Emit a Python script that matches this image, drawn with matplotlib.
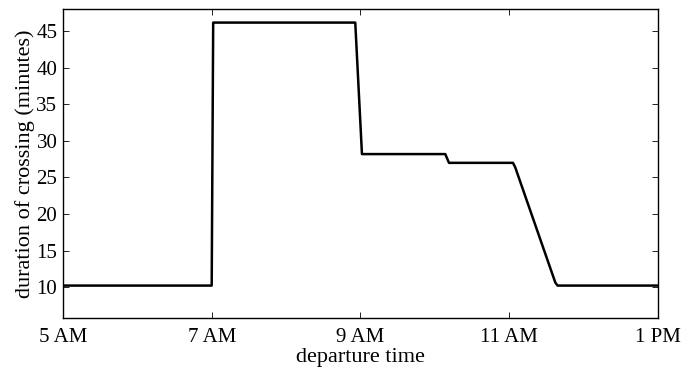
"""Durada del creuament segons l'hora de sortida."""

import matplotlib.pyplot as plt

# hores de sortida (hores decimals) i durada del creuament (minuts)
departure_hours = [5.0, 7.0, 7.02, 8.93, 9.02, 10.14, 10.19, 11.05, 11.08, 11.62, 11.65, 13.0]
crossing_minutes = [10.2, 10.2, 46.2, 46.2, 28.2, 28.2, 27.0, 27.0, 26.4, 10.6, 10.2, 10.2]

tick_hours = [5, 7, 9, 11, 13]
tick_labels = ["5 AM", "7 AM", "9 AM", "11 AM", "1 PM"]
y_ticks = [10, 15, 20, 25, 30, 35, 40, 45]

plt.rcParams["font.family"] = ["Liberation Serif", "DejaVu Serif"]
plt.rcParams["font.size"] = 15

fig = plt.figure(figsize=(6.84, 3.70), dpi=100)
ax = fig.add_axes([0.092, 0.1405, 0.870, 0.834])

ax.plot(departure_hours, crossing_minutes, color="black", linewidth=1.8)

ax.set_xlim(5, 13)
ax.set_ylim(5.76, 48.0)
ax.set_xticks(tick_hours)
ax.set_xticklabels(tick_labels)
ax.set_yticks(y_ticks)

ax.tick_params(axis="both", direction="in", top=True, right=True, length=4,
               width=0.6, labelsize=15)
ax.tick_params(axis="x", pad=7)
ax.tick_params(axis="y", pad=4)
for spine in ax.spines.values():
    spine.set_linewidth(1.0)

ax.set_xlabel("departure time", fontsize=16, labelpad=1)
ax.set_ylabel("duration of crossing (minutes)", fontsize=16, labelpad=1)

fig.savefig("out.png", dpi=100)
plt.close(fig)
